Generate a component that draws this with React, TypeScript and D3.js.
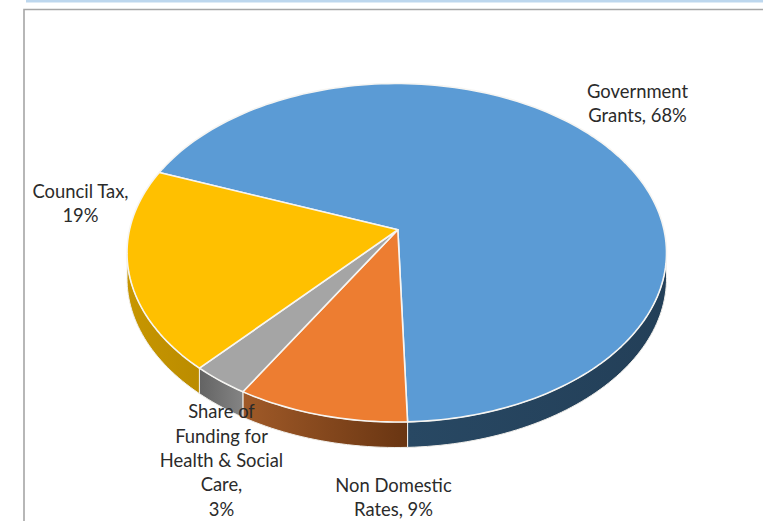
import React from "react";
import * as d3 from "d3";

const sliceNames = ["Government Grants", "Non Domestic Rates", "Share of Funding for Health & Social Care", "Council Tax"];
const sliceShares = [66.5, 10.3, 3.4, 19.8];
const topColors = ["#5b9bd5", "#ed7d31", "#a5a5a5", "#ffc000"];
const sideFrom = ["#284863", "#a05a28", "#636363", "#c79600"];
const sideTo = ["#233f58", "#693512", "#848484", "#bb8c00"];
const labelLines = [
  ["Government", "Grants, 68%"],
  ["Non Domestic", "Rates, 9%"],
  ["Share of", "Funding for", "Health & Social", "Care,", "3%"],
  ["Council Tax,", "19%"],
];
const labelX = [637.5, 393.5, 221.5, 80.5];
const labelY = [97.7, 491.7, 418.2, 197.7];

const W = 763, H = 521;
const x = d3.scaleLinear().domain([-1, 1]).range([127, 666.5]);
const y = d3.scaleLinear().domain([-1, 1]).range([422, 83.5]);
const apex: [number, number] = [x(0.004), y(0.136)];
const DEPTH = 25.5;
const START = (298.3 * Math.PI) / 180;

const pie = d3.pie<number>().sort(null).startAngle(START).endAngle(START + 2 * Math.PI);
const arcs = pie(sliceShares);

const rimPoint = (a: number): [number, number] => [x(Math.sin(a)), y(Math.cos(a))];
const samples = (a0: number, a1: number) => {
  const n = Math.max(2, Math.ceil(Math.abs(a1 - a0) * 40));
  return d3.range(n + 1).map((i) => a0 + ((a1 - a0) * i) / n);
};
const line = d3.line<[number, number]>();

const topPath = (a0: number, a1: number) => line([apex, ...samples(a0, a1).map(rimPoint), apex]) + "Z";

// the wall is visible only for the front half of the rim (one full turn on from the start angle)
const FRONT_START = 2 * Math.PI + Math.PI / 2;
const FRONT_END = 2 * Math.PI + (3 * Math.PI) / 2;
const sidePath = (a0: number, a1: number) => {
  const s = Math.max(a0, FRONT_START);
  const e = Math.min(a1, FRONT_END);
  if (e <= s) return null;
  const upper = samples(s, e).map(rimPoint);
  const lower = [...upper].reverse().map(([px, py]) => [px, py + DEPTH] as [number, number]);
  return line([...upper, ...lower]) + "Z";
};

export default function App() {
  return (
    <svg width={W} height={H} viewBox={`0 0 ${W} ${H}`} style={{ position: "absolute", left: 0, top: 0, display: "block" }}>
      <defs>
        {sliceNames.map((_, i) => (
          <linearGradient key={i} id={`side${i}`} x1="0" y1="0" x2="1" y2="0">
            <stop offset="0" stopColor={sideFrom[i]} />
            <stop offset="1" stopColor={sideTo[i]} />
          </linearGradient>
        ))}
      </defs>
      <rect width={W} height={H} fill="#ffffff" />
      <rect x={26} y={0} width={W - 26} height={2.5} fill="#bdd7ee" />
      <path d={`M${24} ${H}V${9.5}H${W}`} fill="none" stroke="#a6a6a6" strokeWidth={1.6} />
      {arcs.map((a, i) => {
        const d = sidePath(a.startAngle, a.endAngle);
        return d ? <path key={i} d={d} fill={`url(#side${i})`} stroke="#f0eeea" strokeWidth={1} strokeLinejoin="round" /> : null;
      })}
      {arcs.map((a, i) => (
        <path key={i} d={topPath(a.startAngle, a.endAngle)} fill={topColors[i]} stroke="#f6f5f2" strokeWidth={1.6} strokeLinejoin="round" />
      ))}
      {labelLines.map((lines, i) => (
        <text key={i} x={labelX[i]} y={labelY[i]} textAnchor="middle" fontFamily="Lato, 'Open Sans', sans-serif" fontSize={18.4} fill="#2b2b2b">
          {lines.map((t, j) => (
            <tspan key={j} x={labelX[i]} dy={j === 0 ? 0 : 24.4}>{t}</tspan>
          ))}
        </text>
      ))}
    </svg>
  );
}
